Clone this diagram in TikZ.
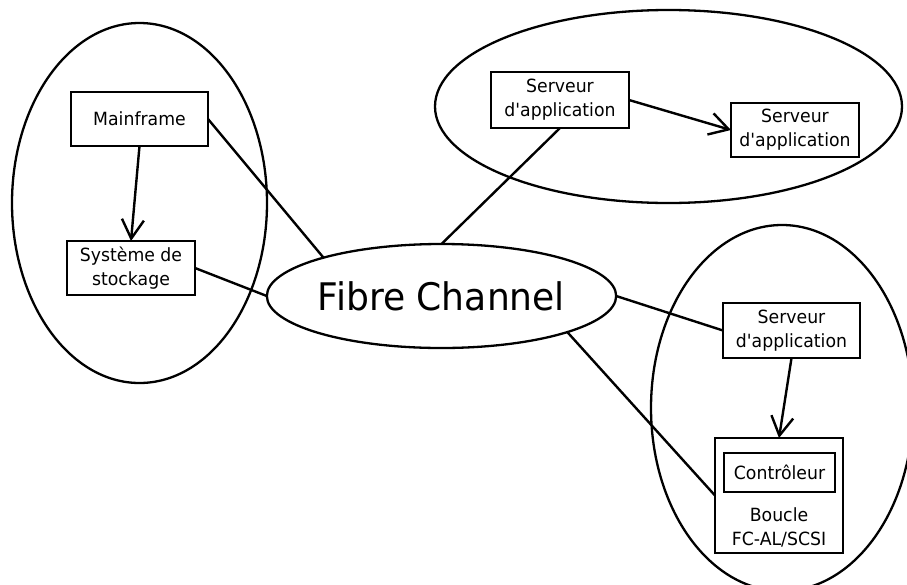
\documentclass[tikz,border=0pt]{standalone}
\usepackage{fontspec}
\setmainfont{DejaVu Sans}[Ligatures=TeXOff, FakeStretch=0.95]
\usetikzlibrary{shapes.geometric,arrows.meta}
\begin{document}
\begin{tikzpicture}[x=1pt,y=-1pt,
  every node/.style={inner sep=0pt, outer sep=0pt},
  grp/.style={draw, line width=2.3pt, ellipse},
  box/.style={draw, line width=2.4pt, rectangle, align=center, font=\fontsize{18.2}{24}\selectfont},
  txt/.style={align=center, font=\fontsize{18.2}{24}\selectfont},
  link/.style={line width=2.4pt},
  arr/.style={line width=2.4pt, -{Straight Barb[length=19pt,width=22pt]}},
]
\useasboundingbox (0,0) rectangle (907,584);
% group ellipses
\node[grp, minimum width=255pt, minimum height=360pt] (gl) at (139.5,203) {};
\node[grp, minimum width=467pt, minimum height=193pt] (gt) at (668.5,106.5) {};
\node[grp, minimum width=262pt, minimum height=366pt] (gr) at (782,408) {};
% central ellipse
\node[draw, line width=2.3pt, ellipse, minimum width=343pt, minimum height=104pt,
      font=\fontsize{38}{42}\selectfont] (fc) at (441.5,296) {Fibre Channel};
% boxes
\node[box, minimum width=137pt, minimum height=54pt] (main) at (139.5,119) {Mainframe};
\node[box, minimum width=128pt, minimum height=54pt] (sys) at (131,268) {Système de\\stockage};
\node[box, minimum width=138pt, minimum height=56pt] (s1) at (560,100) {Serveur\\d'application};
\node[box, minimum width=128pt, minimum height=54pt] (s2) at (795,130) {Serveur\\d'application};
\node[box, minimum width=137pt, minimum height=55pt] (s3) at (791.5,330.5) {Serveur\\d'application};
\node[box, minimum width=128pt, minimum height=115pt] (bc) at (779,495.5) {};
\node[box, minimum width=111pt, minimum height=39pt] (ctrl) at (779.5,472.5) {Contrôleur};
\node[txt] (bl) at (779,527) {Boucle\\FC-AL/SCSI};
% connectors
\draw[arr] (main.south) -- (sys.north);
\draw[link] (main.east) -- (fc.162.6);
\draw[link] (sys.east) -- (fc.west);
\draw[link] (s1.south) -- (fc.north);
\draw[arr] (s1.east) -- (s2.west);
\draw[link] (fc.east) -- (s3.west);
\draw[link] (fc.-16.7) -- (bc.west);
\draw[arr] (s3.south) -- (bc.north);
\end{tikzpicture}
\end{document}
